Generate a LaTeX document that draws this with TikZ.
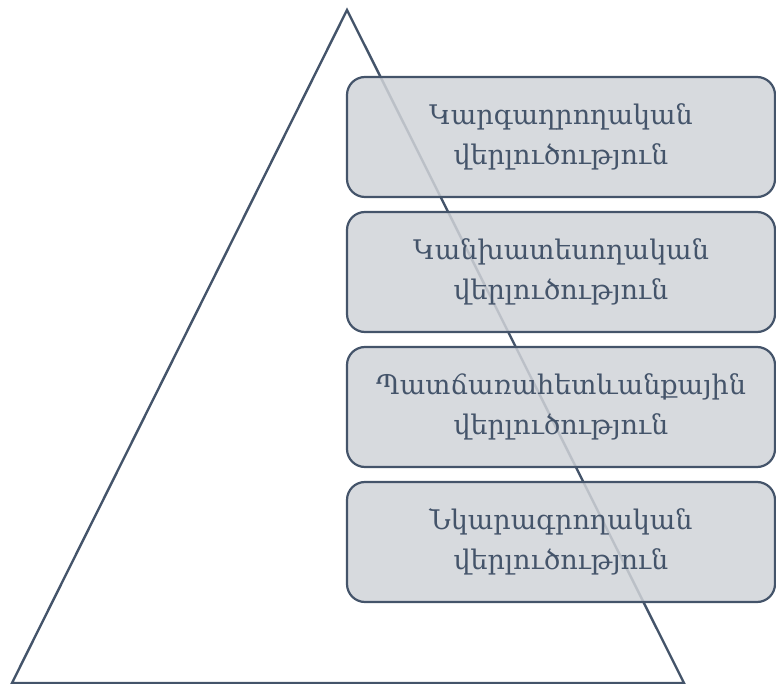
\documentclass[tikz,border=0pt]{standalone}
\usepackage{fontspec}
\newfontfamily\armfont{DejaVu Serif}
\definecolor{slate}{HTML}{44546A}
\definecolor{boxfill}{HTML}{D0D3D8}
\tikzset{
  level/.style={draw=slate, line width=2.2pt, fill=boxfill, fill opacity=0.85,
    draw opacity=1, text opacity=1, rounded corners=18pt, minimum width=428pt,
    minimum height=120pt, align=center, text=slate,
    font=\armfont\fontsize{27}{40}\selectfont, inner sep=0pt},
  edge/.style={draw=slate, line width=2.4pt, line join=miter}
}
\begin{document}
\begin{tikzpicture}[x=1pt,y=-1pt]
\useasboundingbox (0,0) rectangle (776,684);
% pyramid outline
\coordinate (apex) at (347,10);
\coordinate (bl) at (12,683);
\coordinate (br) at (684,683);
\draw[edge] (apex) -- (br) -- (bl) -- cycle;
% analysis levels
\node[level] (l1) at (561,137) {Կարգաղրողական\\վերլուծություն};
\node[level] (l2) at (561,272) {Կանխատեսողական\\վերլուծություն};
\node[level] (l3) at (561,407) {Պատճառահետևանքային\\վերլուծություն};
\node[level] (l4) at (561,542) {Նկարագրողական\\վերլուծություն};
\end{tikzpicture}
\end{document}
